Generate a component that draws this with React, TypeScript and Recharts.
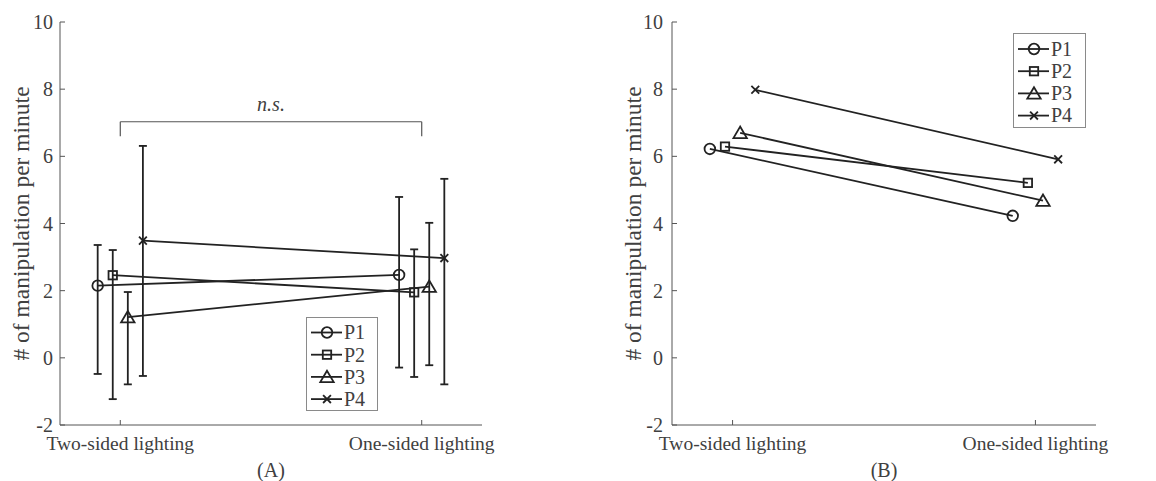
import React from 'react';
import { LineChart, Line, XAxis, YAxis, ErrorBar, ReferenceLine, Legend } from 'recharts';

const conditions = ['Two-sided lighting', 'One-sided lighting'];
const participants = ['P1', 'P2', 'P3', 'P4'];
const markerTypes = ['circle', 'square', 'triangle', 'cross'];
const xOffsets = [-0.075, -0.025, 0.025, 0.075];
const yTicks = [-2, 0, 2, 4, 6, 8, 10];

// Panel A: means with lower / upper error-bar ends per participant
const meansA = [[2.15, 2.47], [2.46, 1.95], [1.21, 2.12], [3.49, 2.97]];
const lowA = [[-0.48, -0.29], [-1.23, -0.57], [-0.79, -0.22], [-0.54, -0.79]];
const highA = [[3.36, 4.79], [3.21, 3.23], [1.96, 4.02], [6.31, 5.33]];

// Panel B: values per participant
const valuesB = [[6.22, 4.23], [6.29, 5.21], [6.7, 4.68], [7.98, 5.91]];

// significance bracket (panel A)
const bracketTop = 7.03;
const bracketBottom = 6.6;
const bracketText = 'n.s.';

const FONT = 'Liberation Serif, Times New Roman, serif';
const INK = '#222';
const AXIS = '#555';
const TEXT = '#404040';
const LW = 1.8;

function Marker({ cx, cy, type }: { cx: number; cy: number; type: string }) {
  if (cx == null || cy == null) return null;
  const common = { fill: 'none', stroke: INK, strokeWidth: LW };
  if (type === 'circle') return <circle cx={cx} cy={cy} r={5.3} {...common} />;
  if (type === 'square') return <rect x={cx - 4.2} y={cy - 4.2} width={8.4} height={8.4} {...common} />;
  if (type === 'triangle')
    return <polygon points={`${cx},${cy - 6.2} ${cx - 6.7},${cy + 5.2} ${cx + 6.7},${cy + 5.2}`} {...common} />;
  return (
    <g {...common}>
      <line x1={cx - 3.9} y1={cy - 3.9} x2={cx + 3.9} y2={cy + 3.9} />
      <line x1={cx - 3.9} y1={cy + 3.9} x2={cx + 3.9} y2={cy - 3.9} />
    </g>
  );
}

const seriesA = participants.map((name, s) => ({
  name,
  type: markerTypes[s],
  data: conditions.map((c, i) => ({
    x: i + 1 + xOffsets[s],
    y: meansA[s][i],
    err: [meansA[s][i] - lowA[s][i], highA[s][i] - meansA[s][i]],
  })),
}));

const seriesB = participants.map((name, s) => ({
  name,
  type: markerTypes[s],
  data: conditions.map((c, i) => ({ x: i + 1 + xOffsets[s], y: valuesB[s][i] })),
}));

function LegendBox({ w, h, rowStart }: { w: number; h: number; rowStart: number }) {
  return (
    <svg width={w} height={h} style={{ display: 'block' }}>
      <rect x={0.5} y={0.5} width={w - 1} height={h - 1} fill="#fff" stroke="#8a8a8a" strokeWidth={1} />
      {participants.map((p, i) => {
        const y = rowStart + i * 22.2;
        return (
          <g key={p}>
            <line x1={5} y1={y} x2={36} y2={y} stroke={INK} strokeWidth={LW} />
            <Marker cx={21} cy={y} type={markerTypes[i]} />
            <text x={38} y={y + 6.8} fontSize={20} fontFamily={FONT} fill={TEXT}>{p}</text>
          </g>
        );
      })}
    </svg>
  );
}

function Panel({
  series,
  withErrors,
  width,
  leftW,
  rightM,
  panelLabel,
  legendPos,
  rowStart,
  tickGap,
  withBracket,
}: any) {
  return (
    <LineChart
      width={width}
      height={481}
      margin={{ top: 22, right: rightM, bottom: 0, left: 0 }}
    >
      <XAxis
        type="number"
        dataKey="x"
        domain={[0.8, 2.2]}
        ticks={[1, 2]}
        allowDataOverflow
        tickFormatter={(v: number) => conditions[Math.round(v) - 1]}
        height={56}
        tickSize={-5}
        tickMargin={16}
        stroke={AXIS}
        tick={{ fill: TEXT, fontSize: 19.5, fontFamily: FONT }}
        label={{
          content: (p: any) => (
            <text
              x={p.viewBox.x + p.viewBox.width / 2}
              y={p.viewBox.y + 52}
              textAnchor="middle"
              fontSize={20}
              fontFamily={FONT}
              fill={TEXT}
            >
              {panelLabel}
            </text>
          ),
        }}
      />
      <YAxis
        type="number"
        domain={[-2, 10]}
        ticks={yTicks}
        width={leftW}
        tickSize={-5}
        tickMargin={5 + tickGap}
        stroke={AXIS}
        tick={{ fill: TEXT, fontSize: 20, fontFamily: FONT }}
        label={{
          content: (p: any) => {
            const cx = p.viewBox.x + p.viewBox.width - 39;
            const cy = p.viewBox.y + p.viewBox.height / 2;
            return (
              <text
                x={cx}
                y={cy}
                transform={`rotate(-90 ${cx} ${cy})`}
                textAnchor="middle"
                dominantBaseline="central"
                fontSize={23.5}
                fontFamily={FONT}
                fill={TEXT}
              >
                # of manipulation per minute
              </text>
            );
          },
        }}
      />
      {withBracket && (
        <ReferenceLine
          segment={[{ x: 1, y: bracketTop }, { x: 2, y: bracketTop }]}
          stroke={AXIS}
          strokeWidth={1.2}
          label={{
            content: (p: any) => (
              <text
                x={p.viewBox.x + p.viewBox.width / 2}
                y={p.viewBox.y - 11}
                textAnchor="middle"
                fontSize={20}
                fontStyle="italic"
                fontFamily={FONT}
                fill={TEXT}
              >
                {bracketText}
              </text>
            ),
          }}
        />
      )}
      {withBracket && (
        <ReferenceLine segment={[{ x: 1, y: bracketTop }, { x: 1, y: bracketBottom }]} stroke={AXIS} strokeWidth={1.2} />
      )}
      {withBracket && (
        <ReferenceLine segment={[{ x: 2, y: bracketTop }, { x: 2, y: bracketBottom }]} stroke={AXIS} strokeWidth={1.2} />
      )}
      {series.map((s: any, si: number) => (
        <Line
          key={s.name}
          data={s.data}
          dataKey="y"
          name={s.name}
          stroke={INK}
          strokeWidth={LW}
          isAnimationActive={false}
          dot={(props: any) => <Marker key={`${si}-${props.index}`} cx={props.cx} cy={props.cy} type={s.type} />}
          activeDot={false}
        >
          {withErrors && (
            <ErrorBar dataKey="err" direction="y" width={4} stroke={INK} strokeWidth={LW} isAnimationActive={false} />
          )}
        </Line>
      ))}
      <Legend
        layout="vertical"
        align="center"
        verticalAlign="middle"
        wrapperStyle={{ position: 'absolute', left: legendPos.left, top: legendPos.top, width: legendPos.w, height: legendPos.h }}
        content={() => <LegendBox w={legendPos.w} h={legendPos.h} rowStart={rowStart} />}
      />
    </LineChart>
  );
}

export default function App() {
  return (
    <div style={{ position: 'absolute', left: 0, top: 0, width: 1156, height: 481, background: '#fff' }}>
      <div style={{ position: 'absolute', left: 0, top: 0 }}>
        <Panel
          series={seriesA}
          withErrors
          width={580}
          leftW={60}
          rightM={98}
          panelLabel="(A)"
          legendPos={{ left: 306, top: 317, w: 72, h: 94 }}
          rowStart={15.5}
          tickGap={7}
          withBracket
        />
      </div>
      <div style={{ position: 'absolute', left: 580, top: 0 }}>
        <Panel
          series={seriesB}
          withErrors={false}
          width={576}
          leftW={92}
          rightM={60}
          panelLabel="(B)"
          legendPos={{ left: 433, top: 33, w: 73, h: 95 }}
          rowStart={16}
          tickGap={9}
          withBracket={false}
        />
      </div>
    </div>
  );
}
